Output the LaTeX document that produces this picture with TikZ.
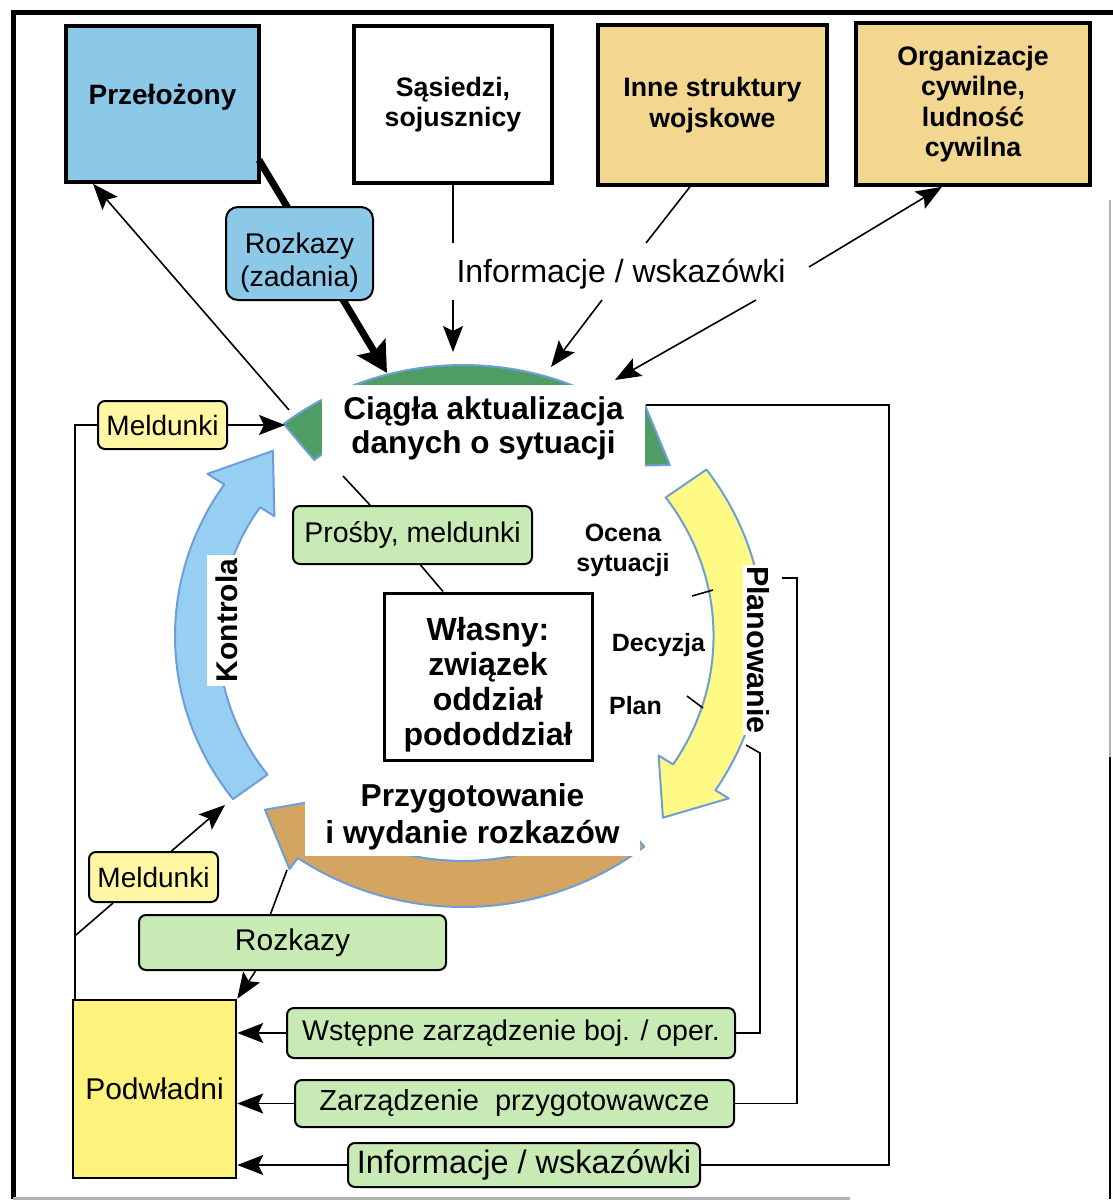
\documentclass[tikz,border=0pt]{standalone}
\usepackage{fontspec}
\setmainfont{Liberation Sans}
\usetikzlibrary{arrows.meta}

\definecolor{chiefblue}{HTML}{8CC9E8}
\definecolor{tanbox}{HTML}{F3D690}
\definecolor{subyellow}{HTML}{FFF27C}
\definecolor{paleyellow}{HTML}{FFF7A4}
\definecolor{palegreen}{HTML}{C8EAB5}
\definecolor{arcgreen}{HTML}{4F9D65}
\definecolor{arcyellow}{HTML}{FFFA86}
\definecolor{arcbrown}{HTML}{D4A560}
\definecolor{arcblue}{HTML}{97CFF3}
\definecolor{arcedge}{HTML}{6D9ED8}

\newcommand\fsz[2]{\fontsize{#1}{#2}\selectfont}
% centred lines, moved up or down by #1 without changing the box size
\newcommand\boxlines[2]{\raisebox{#1}[\height][\depth]{\begin{tabular}{@{}c@{}}#2\end{tabular}}}

% One curved arrow of the cycle, drawn along an ellipse centred at (463,636).
% #1 fill, #2 tail angle, #3 head-base angle, #4 tip angle,
% #5 inner radius, #6 outer radius, #7 inner barb, #8 outer barb, #9 tip radius
\newcommand\ringarrow[9]{%
  \filldraw[ringline, fill=#1]
    plot[domain=#2:#3, samples=60] ({463+288*#6*cos(\x)},{636-271*#6*sin(\x)})
    -- ({463+288*#8*cos(#3)},{636-271*#8*sin(#3)})
    -- ({463+288*#9*cos(#4)},{636-271*#9*sin(#4)})
    -- ({463+288*#7*cos(#3)},{636-271*#7*sin(#3)})
    -- plot[domain=#3:#2, samples=60] ({463+288*#5*cos(\x)},{636-271*#5*sin(\x)})
    -- cycle;}

\begin{document}
\begin{tikzpicture}[x=1pt, y=-1pt,
  link/.style={line width=1.6pt},
  arr/.style={link, -{Stealth[length=26pt,width=20pt,inset=5pt]}},
  bigarr/.style={line width=7pt, -{Stealth[length=30pt,width=32pt,inset=5pt]}},
  topbox/.style={draw, line width=3.5pt, inner sep=0pt, align=center,
                 font=\bfseries\fsz{26.7}{30.5}},
  tag/.style={draw, line width=2pt, rounded corners=7pt, inner sep=0pt,
              fill=palegreen, font=\fsz{28.5}{33}},
  whitebox/.style={fill=white, inner sep=0pt, align=center},
  ringline/.style={draw=arcedge, line width=2pt, line join=round},
  label/.style={inner sep=0pt, align=center, font=\bfseries\fsz{25}{30}},
]
\useasboundingbox (0,0) rectangle (1113,1200);

% outer frame
\draw[line width=5pt] (1113,12) -- (13,12) -- (13,1199);
\draw[line width=1.2pt, black!30] (1110,200) -- (1110,757);
\draw[line width=2pt] (1110,757) -- (1110,1199);
\draw[line width=3pt, black!30] (13,1198) -- (850,1198);

% the decision cycle
\ringarrow{arcgreen}{128.5}{53.4}{41.3}{0.83}{1.0}{0.78}{1.06}{0.956}
\ringarrow{arcyellow}{36}{-33}{-44}{0.87}{1.045}{0.81}{1.10}{0.965}
\ringarrow{arcbrown}{309}{235}{223}{0.83}{1.0}{0.72}{1.05}{0.94}
\ringarrow{arcblue}{217}{146}{134}{0.85}{1.0}{0.79}{1.07}{0.95}

\node[whitebox, minimum width=323pt, minimum height=87pt,
      font=\bfseries\fsz{31.5}{34}] (ciag) at (483.5,428)
      {Ciągła aktualizacja\\danych o sytuacji};
\node[whitebox, minimum width=335pt, minimum height=78pt,
      font=\bfseries\fsz{31.7}{37}] (prep) at (472.5,817)
      {Przygotowanie\\i wydanie rozkazów};
\node[whitebox, rotate=90, minimum width=131pt, minimum height=39pt,
      font=\bfseries\fsz{30}{34}] (kon) at (226.5,620.5) {Kontrola};
\node[whitebox, rotate=-90, minimum width=170pt, minimum height=31pt,
      font=\bfseries\fsz{30.5}{34}] (plan) at (758.5,650) {Planowanie};

\node[label] (ocena) at (623,550) {Ocena\\sytuacji};
\node[label] (decyzja) at (658.5,645) {Decyzja};
\node[label] (plantxt) at (635.5,706) {Plan};
\draw[link] (692,596) -- (713,590);
\draw[link] (687,696) -- (703,708);

% top row
\node[topbox, fill=chiefblue, minimum width=193pt, minimum height=156pt,
      font=\bfseries\fsz{28}{32}] (prz) at (162.5,104) {\boxlines{6pt}{Przełożony}};
\node[topbox, fill=white, minimum width=198pt, minimum height=157pt] (sas)
      at (453,104.5) {Sąsiedzi,\\sojusznicy};
\node[topbox, fill=tanbox, minimum width=229pt, minimum height=160pt] (inne)
      at (712.5,105) {Inne struktury\\wojskowe};
\node[topbox, fill=tanbox, minimum width=234pt, minimum height=162pt] (org)
      at (973,104) {Organizacje\\cywilne,\\ludność\\cywilna};

\coordinate (thickA) at (259,160);
\coordinate (thickB) at (387,373);
\draw[bigarr] (thickA) -- (thickB);
\node[tag, fill=chiefblue, rounded corners=12pt, minimum width=147pt,
      minimum height=93pt] (rozz) at (299.5,253.5) {\boxlines{-10pt}{Rozkazy\\(zadania)}};

\node[inner sep=0pt, font=\fsz{32}{36}] (info) at (621,274) {Informacje / wskazówki};

\coordinate (sasGap1) at (453,243);
\coordinate (sasGap2) at (453,300);
\coordinate (ringTop1) at (453,352);
\coordinate (inneGap) at (646,243);
\coordinate (infoL) at (602,300);
\coordinate (ringTop2) at (551,367);
\coordinate (infoR) at (809,267);
\coordinate (infoR2) at (756,300);
\coordinate (ringTop3) at (615,380);
\coordinate (ringUp) at (289,410);

\draw[link] (sas.south) -- (sasGap1);
\draw[arr] (sasGap2) -- (ringTop1);
\draw[link] ([xshift=-22.5pt]inne.south) -- (inneGap);
\draw[arr] (infoL) -- (ringTop2);
\draw[arr] (infoR) -- ([xshift=-31pt]org.south);
\draw[arr] (infoR2) -- (ringTop3);
\draw[arr] (ringUp) -- ([xshift=-69.5pt]prz.south);

% own unit in the middle
\node[draw, line width=3pt, fill=white, minimum width=208pt, minimum height=167pt,
      inner sep=0pt, font=\bfseries\fsz{32}{35}] (wl) at (488,676.5)
      {\boxlines{-9pt}{Własny:\\związek\\oddział\\pododdział}};
\node[tag, minimum width=239pt, minimum height=58pt] (pro) at (412.5,535) {Prośby, meldunki};
\coordinate (askA) at (343,476);
\draw[link] (askA) -- ([xshift=-42.5pt]pro.north);
\draw[link] ([xshift=8pt]pro.south) -- ([xshift=-45pt]wl.north);

% reports and subordinates on the left
\node[tag, fill=paleyellow, minimum width=129pt, minimum height=48pt,
      font=\fsz{28}{32}] (mel1) at (162.5,425) {Meldunki};
\node[tag, fill=paleyellow, minimum width=129pt, minimum height=50pt,
      font=\fsz{28}{32}] (mel2) at (153.5,877) {Meldunki};
\node[tag, minimum width=307pt, minimum height=55pt, font=\fsz{30}{34}] (roz)
      at (292.5,942.5) {Rozkazy};
\node[draw, line width=2.5pt, fill=subyellow, minimum width=163pt, minimum height=178pt,
      inner sep=0pt, font=\fsz{30}{34}] (pod) at (154.5,1089) {Podwładni};

\coordinate (greenTail) at (285,425);
\coordinate (blueTail) at (225,805);
\coordinate (meldJoin) at (76,935);
\coordinate (brownHead) at (287,870);

\draw[arr] (mel1.east) -- (greenTail);
\draw[link] (mel1.west) -| ([xshift=3pt]pod.north west);
\draw[arr] ([xshift=18pt]mel2.north) -- (blueTail);
\draw[link] ([xshift=25pt]mel2.south west) -- (meldJoin);
\draw[link] (brownHead) -- ([xshift=-22pt]roz.north);
\draw[arr] ([xshift=-37pt]roz.south) -- (pod.north east);

% orders going down
\node[tag, minimum width=448pt, minimum height=50pt] (wst) at (511,1033)
      {Wstępne zarządzenie boj. / oper.};
\node[tag, minimum width=439pt, minimum height=47pt, font=\fsz{29}{33}] (zar)
      at (514.5,1103.5) {Zarządzenie\ \ przygotowawcze};
\node[tag, minimum width=352pt, minimum height=44pt, font=\fsz{32.5}{36}] (inf2)
      at (524,1165) {Informacje / wskazówki};

\draw[arr] (wst.west) -- (wst.west -| pod.east);
\draw[arr] (zar.west) -- (zar.west -| pod.east);
\draw[arr] (inf2.west) -- (inf2.west -| pod.east);

\coordinate (planFoot) at (746,745);
\coordinate (planBend) at (760,753);
\coordinate (planStub) at (782,578);
\coordinate (stubBend) at (797,578);
\coordinate (greenHead) at (646,405);
\coordinate (outerBend) at (889,405);

\draw[link] (planFoot) -- (planBend) |- (wst.east);
\draw[link] (planStub) -- (stubBend) |- (zar.east);
\draw[link] (greenHead) -- (outerBend) |- (inf2.east);
\end{tikzpicture}
\end{document}
